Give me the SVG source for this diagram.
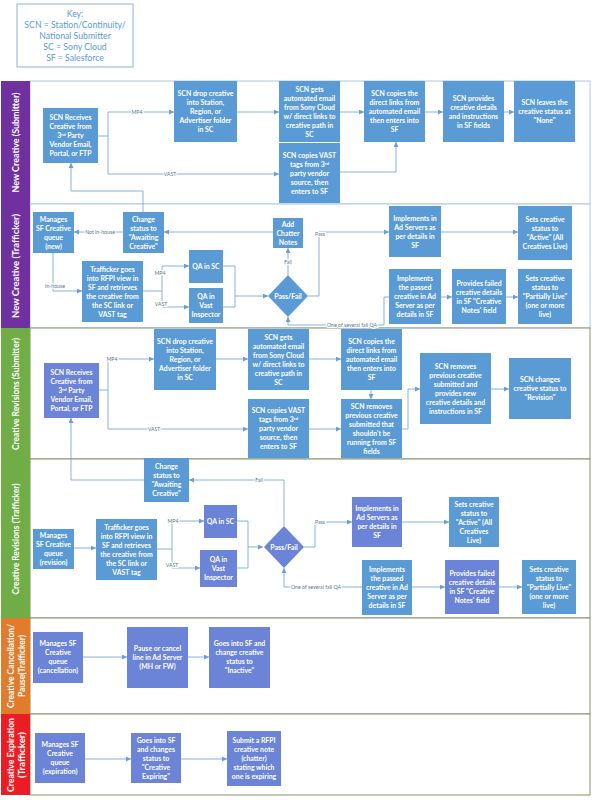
<svg xmlns="http://www.w3.org/2000/svg" width="601" height="800" viewBox="0 0 601 800">
<defs>
<style>
.b{fill:#5b9bd5}
.p{fill:#6b84d7}
.t{font-family:Lato,"Open Sans",sans-serif;font-size:6.9px;font-weight:bold;fill:#fff;text-anchor:middle}
.c{fill:none;stroke:#6a9fd3;stroke-width:0.8}
.l{font-family:Lato,"Open Sans",sans-serif;font-size:5.2px;fill:#5a7494;text-anchor:middle;stroke:#fff;stroke-width:2.2px;paint-order:stroke}
.ln{font-family:Lato,"Open Sans",sans-serif;font-size:9px;font-weight:bold;fill:#fff;text-anchor:middle}
.k{font-family:Lato,"Open Sans",sans-serif;font-size:8.7px;fill:#5b9bd5;text-anchor:middle}
.s{font-size:4.5px}
</style>
<marker id="a" markerWidth="5" markerHeight="5" refX="5" refY="2.5" orient="auto" markerUnits="userSpaceOnUse"><path d="M0,0 L5,2.5 L0,5 z" fill="#6a9fd3"/></marker>
</defs>
<rect width="601" height="800" fill="#fff"/>

<g id="key">
<rect x="17" y="4" width="116" height="63" fill="#fff" stroke="#8db3d9" stroke-width="1"/>
<text class="k"><tspan x="75" y="17">Key:</tspan><tspan x="75" y="28">SCN = Station/Continuity/</tspan><tspan x="75" y="39">National Submitter</tspan><tspan x="75" y="50">SC = Sony Cloud</tspan><tspan x="75" y="61">SF = Salesforce</tspan></text>
</g>

<g id="lanes">
<rect x="30" y="81" width="560" height="123" fill="#fff" stroke="#a9c9e6" stroke-width="1"/>
<rect x="1" y="81" width="29" height="123" fill="#7030a0"/>
<text class="ln" transform="translate(19,142.5) rotate(-90)" textLength="100" lengthAdjust="spacingAndGlyphs">New Creative (Submitter)</text>
<rect x="30" y="204" width="560" height="124" fill="#fff" stroke="#a9c9e6" stroke-width="1"/>
<rect x="1" y="204" width="29" height="124" fill="#7030a0"/>
<text class="ln" transform="translate(19,266) rotate(-90)" textLength="104" lengthAdjust="spacingAndGlyphs">New Creative (Trafficker)</text>
<rect x="30" y="328" width="560" height="131" fill="#fff" stroke="#87916f" stroke-width="1"/>
<rect x="1" y="328" width="29" height="131" fill="#70ad47"/>
<text class="ln" transform="translate(19,394) rotate(-90)" textLength="112" lengthAdjust="spacingAndGlyphs">Creative Revisions (Submitter)</text>
<rect x="30" y="459" width="560" height="159" fill="#fff" stroke="#87916f" stroke-width="1"/>
<rect x="1" y="459" width="29" height="159" fill="#70ad47"/>
<text class="ln" transform="translate(19,539) rotate(-90)" textLength="111" lengthAdjust="spacingAndGlyphs">Creative Revisions (Trafficker)</text>
<rect x="30" y="618" width="560" height="96" fill="#fff" stroke="#87916f" stroke-width="1"/>
<rect x="1" y="618" width="29" height="96" fill="#e07c2c"/>
<text class="ln" transform="translate(14,666) rotate(-90)" textLength="84" lengthAdjust="spacingAndGlyphs">Creative Cancellation/</text>
<text class="ln" transform="translate(25,666) rotate(-90)" textLength="62" lengthAdjust="spacingAndGlyphs">Pause(Trafficker)</text>
<rect x="30" y="714" width="560" height="81" fill="#fff" stroke="#87916f" stroke-width="1"/>
<rect x="1" y="714" width="29" height="81" fill="#ec1c24"/>
<text class="ln" transform="translate(14,755) rotate(-90)" textLength="74" lengthAdjust="spacingAndGlyphs">Creative Expiration</text>
<text class="ln" transform="translate(25,755) rotate(-90)" textLength="46" lengthAdjust="spacingAndGlyphs">(Trafficker)</text>
</g>

<g id="connectors">
<path class="c" d="M98,136 H108 V112 H174" marker-end="url(#a)"/>
<path class="c" d="M108,136 V174 H279" marker-end="url(#a)"/>
<path class="c" d="M237,112 H279" marker-end="url(#a)"/>
<path class="c" d="M340,112 H364" marker-end="url(#a)"/>
<path class="c" d="M340,172 H396 V142" marker-end="url(#a)"/>
<path class="c" d="M425,112 H443" marker-end="url(#a)"/>
<path class="c" d="M504,112 H514" marker-end="url(#a)"/>
<path class="c" d="M143,212 V191 H71 V163" marker-end="url(#a)"/>
<text class="l" x="137" y="114">MP4</text>
<text class="l" x="170" y="176">VAST</text>

<path class="c" d="M273,232 H164" marker-end="url(#a)"/>
<path class="c" d="M123,232 H74" marker-end="url(#a)"/>
<path class="c" d="M53,253 V291 H82" marker-end="url(#a)"/>
<path class="c" d="M143,291 H162 V266 H189" marker-end="url(#a)"/>
<path class="c" d="M162,291 V307 H189" marker-end="url(#a)"/>
<path class="c" d="M223,266 H235 V296 H268" marker-end="url(#a)"/>
<path class="c" d="M223,307 H235 V296"/>
<path class="c" d="M288,275 V248" marker-end="url(#a)"/>
<path class="c" d="M308,296 H319 V232 H389" marker-end="url(#a)"/>
<path class="c" d="M441,232 H518" marker-end="url(#a)"/>
<path class="c" d="M441,297 H452" marker-end="url(#a)"/>
<path class="c" d="M506,297 H518" marker-end="url(#a)"/>
<path class="c" d="M389,297 H384 V325 H288 V317" marker-end="url(#a)"/>
<text class="l" x="100" y="234">Not in-house</text>
<text class="l" x="55" y="288">In-house</text>
<text class="l" x="160" y="275">MP4</text>
<text class="l" x="161" y="306">VAST</text>
<text class="l" x="288" y="264">Fail</text>
<text class="l" x="320" y="236">Pass</text>
<text class="l" x="352" y="327">One of several fail QA</text>

<path class="c" d="M99,390 H108 V359 H154" marker-end="url(#a)"/>
<path class="c" d="M108,390 V429 H248" marker-end="url(#a)"/>
<path class="c" d="M216,359 H248" marker-end="url(#a)"/>
<path class="c" d="M309,359 H341" marker-end="url(#a)"/>
<path class="c" d="M309,429 H341" marker-end="url(#a)"/>
<path class="c" d="M371,390 V399" marker-end="url(#a)"/>
<path class="c" d="M402,429 H408 V389 H420" marker-end="url(#a)"/>
<path class="c" d="M491,389 H509" marker-end="url(#a)"/>
<path class="c" d="M144,480 H71 V418" marker-end="url(#a)"/>
<text class="l" x="112" y="361">MP4</text>
<text class="l" x="154" y="431">VAST</text>

<path class="c" d="M74,548 H96" marker-end="url(#a)"/>
<path class="c" d="M157,549 H172 V521 H204" marker-end="url(#a)"/>
<path class="c" d="M172,549 V568 H200" marker-end="url(#a)"/>
<path class="c" d="M237,521 H248 V547 H263" marker-end="url(#a)"/>
<path class="c" d="M237,568 H248 V547"/>
<path class="c" d="M284,526 V480 H189" marker-end="url(#a)"/>
<path class="c" d="M304,547 H315 V522 H352" marker-end="url(#a)"/>
<path class="c" d="M402,522 H449" marker-end="url(#a)"/>
<path class="c" d="M362,587 H284 V568" marker-end="url(#a)"/>
<path class="c" d="M412,587 H445" marker-end="url(#a)"/>
<path class="c" d="M499,587 H522" marker-end="url(#a)"/>
<text class="l" x="173" y="523">MP4</text>
<text class="l" x="172" y="567">VAST</text>
<text class="l" x="259" y="482">Fail</text>
<text class="l" x="320" y="524">Pass</text>
<text class="l" x="316" y="589">One of several fail QA</text>

<path class="c" d="M83,657 H127" marker-end="url(#a)"/>
<path class="c" d="M188,657 H209" marker-end="url(#a)"/>
<path class="c" d="M85,759 H131" marker-end="url(#a)"/>
<path class="c" d="M181,759 H227" marker-end="url(#a)"/>
</g>

<g id="n1a"><rect class="b" x="43" y="108" width="55" height="55"/><text class="t"><tspan x="70.5" y="120">SCN Receives</tspan><tspan x="70.5" y="129">Creative from</tspan><tspan x="70.5" y="138">3<tspan class="s" dy="-2">rd</tspan><tspan dy="2"> Party</tspan></tspan><tspan x="70.5" y="147">Vendor Email,</tspan><tspan x="70.5" y="156">Portal, or FTP</tspan></text></g>
<g id="n1b"><rect class="b" x="174" y="81" width="63" height="61"/><text class="t"><tspan x="205.5" y="96">SCN drop creative</tspan><tspan x="205.5" y="105">into Station,</tspan><tspan x="205.5" y="114">Region, or</tspan><tspan x="205.5" y="123">Advertiser folder</tspan><tspan x="205.5" y="132">in SC</tspan></text></g>
<g id="n1c"><rect class="b" x="279" y="81" width="61" height="61"/><text class="t"><tspan x="309.5" y="91.5">SCN gets</tspan><tspan x="309.5" y="100.5">automated email</tspan><tspan x="309.5" y="109.5">from Sony Cloud</tspan><tspan x="309.5" y="118.5">w/ direct links to</tspan><tspan x="309.5" y="127.5">creative path in</tspan><tspan x="309.5" y="136.5">SC</tspan></text></g>
<g id="n1d"><rect class="b" x="279" y="143" width="61" height="60"/><text class="t"><tspan x="309.5" y="157.5">SCN copies VAST</tspan><tspan x="309.5" y="166.5">tags from 3<tspan class="s" dy="-2">rd</tspan></tspan><tspan x="309.5" y="175.5">party vendor</tspan><tspan x="309.5" y="184.5">source, then</tspan><tspan x="309.5" y="193.5">enters to SF</tspan></text></g>
<g id="n1e"><rect class="b" x="364" y="81" width="61" height="61"/><text class="t"><tspan x="394.5" y="96">SCN copies the</tspan><tspan x="394.5" y="105">direct links from</tspan><tspan x="394.5" y="114">automated email</tspan><tspan x="394.5" y="123">then enters into</tspan><tspan x="394.5" y="132">SF</tspan></text></g>
<g id="n1f"><rect class="b" x="443" y="81" width="61" height="61"/><text class="t"><tspan x="473.5" y="100.5">SCN provides</tspan><tspan x="473.5" y="109.5">creative details</tspan><tspan x="473.5" y="118.5">and instructions</tspan><tspan x="473.5" y="127.5">in SF fields</tspan></text></g>
<g id="n1g"><rect class="b" x="514" y="81" width="61" height="61"/><text class="t"><tspan x="544.5" y="105">SCN leaves the</tspan><tspan x="544.5" y="114">creative status at</tspan><tspan x="544.5" y="123">"None"</tspan></text></g>

<g id="n2a"><rect class="b" x="33" y="212" width="41" height="41"/><text class="t"><tspan x="53.5" y="221.5">Manages</tspan><tspan x="53.5" y="230.5">SF Creative</tspan><tspan x="53.5" y="239.5">queue</tspan><tspan x="53.5" y="248.5">(new)</tspan></text></g>
<g id="n2b"><rect class="b" x="123" y="212" width="41" height="41"/><text class="t"><tspan x="143.5" y="221.5">Change</tspan><tspan x="143.5" y="230.5">status to</tspan><tspan x="143.5" y="239.5">"Awaiting</tspan><tspan x="143.5" y="248.5">Creative"</tspan></text></g>
<g id="n2c"><rect class="b" x="273" y="218" width="30" height="30"/><text class="t"><tspan x="288" y="226.5">Add</tspan><tspan x="288" y="235.5">Chatter</tspan><tspan x="288" y="244.5">Notes</tspan></text></g>
<g id="n2d"><rect class="b" x="82" y="261" width="61" height="61"/><text class="t"><tspan x="112.5" y="271.5">Trafficker goes</tspan><tspan x="112.5" y="280.5">into RFPI view in</tspan><tspan x="112.5" y="289.5">SF and retrieves</tspan><tspan x="112.5" y="298.5">the creative from</tspan><tspan x="112.5" y="307.5">the SC link or</tspan><tspan x="112.5" y="316.5">VAST tag</tspan></text></g>
<g id="n2e"><rect class="b" x="189" y="250" width="34" height="33"/><text class="t"><tspan x="206" y="269">QA in SC</tspan></text></g>
<g id="n2f"><rect class="b" x="189" y="288" width="34" height="35"/><text class="t"><tspan x="206" y="299">QA in</tspan><tspan x="206" y="308">Vast</tspan><tspan x="206" y="317">Inspector</tspan></text></g>
<g id="n2g"><polygon class="b" points="268,296 288,275 308,296 288,317"/><text class="t"><tspan x="288" y="298.5">Pass/Fail</tspan></text></g>
<g id="n2h"><rect class="b" x="389" y="206" width="52" height="51"/><text class="t"><tspan x="415" y="220.5">Implements in</tspan><tspan x="415" y="229.5">Ad Servers as</tspan><tspan x="415" y="238.5">per details in</tspan><tspan x="415" y="247.5">SF</tspan></text></g>
<g id="n2i"><rect class="b" x="518" y="206" width="54" height="54"/><text class="t"><tspan x="545" y="222">Sets creative</tspan><tspan x="545" y="231">status to</tspan><tspan x="545" y="240">"Active" (All</tspan><tspan x="545" y="249">Creatives Live)</tspan></text></g>
<g id="n2j"><rect class="b" x="389" y="269" width="52" height="55"/><text class="t"><tspan x="415" y="281">Implements</tspan><tspan x="415" y="290">the passed</tspan><tspan x="415" y="299">creative in Ad</tspan><tspan x="415" y="308">Server as per</tspan><tspan x="415" y="317">details in SF</tspan></text></g>
<g id="n2k"><rect class="b" x="452" y="269" width="54" height="55"/><text class="t"><tspan x="479" y="285.5">Provides failed</tspan><tspan x="479" y="294.5">creative details</tspan><tspan x="479" y="303.5">in SF "Creative</tspan><tspan x="479" y="312.5">Notes' field</tspan></text></g>
<g id="n2l"><rect class="b" x="518" y="269" width="54" height="55"/><text class="t"><tspan x="545" y="281">Sets creative</tspan><tspan x="545" y="290">status to</tspan><tspan x="545" y="299">"Partially Live"</tspan><tspan x="545" y="308">(one or more</tspan><tspan x="545" y="317">live)</tspan></text></g>

<g id="n3a"><rect class="p" x="44" y="363" width="55" height="55"/><text class="t"><tspan x="71.5" y="375">SCN Receives</tspan><tspan x="71.5" y="384">Creative from</tspan><tspan x="71.5" y="393">3<tspan class="s" dy="-2">rd</tspan><tspan dy="2"> Party</tspan></tspan><tspan x="71.5" y="402">Vendor Email,</tspan><tspan x="71.5" y="411">Portal, or FTP</tspan></text></g>
<g id="n3b"><rect class="b" x="154" y="329" width="62" height="61"/><text class="t"><tspan x="185" y="344">SCN drop creative</tspan><tspan x="185" y="353">into Station,</tspan><tspan x="185" y="362">Region, or</tspan><tspan x="185" y="371">Advertiser folder</tspan><tspan x="185" y="380">in SC</tspan></text></g>
<g id="n3c"><rect class="b" x="248" y="329" width="61" height="61"/><text class="t"><tspan x="278.5" y="339.5">SCN gets</tspan><tspan x="278.5" y="348.5">automated email</tspan><tspan x="278.5" y="357.5">from Sony Cloud</tspan><tspan x="278.5" y="366.5">w/ direct links to</tspan><tspan x="278.5" y="375.5">creative path in</tspan><tspan x="278.5" y="384.5">SC</tspan></text></g>
<g id="n3d"><rect class="b" x="248" y="399" width="61" height="59"/><text class="t"><tspan x="278.5" y="413">SCN copies VAST</tspan><tspan x="278.5" y="422">tags from 3<tspan class="s" dy="-2">rd</tspan></tspan><tspan x="278.5" y="431">party vendor</tspan><tspan x="278.5" y="440">source, then</tspan><tspan x="278.5" y="449">enters to SF</tspan></text></g>
<g id="n3e"><rect class="b" x="341" y="329" width="61" height="61"/><text class="t"><tspan x="371.5" y="344">SCN copies the</tspan><tspan x="371.5" y="353">direct links from</tspan><tspan x="371.5" y="362">automated email</tspan><tspan x="371.5" y="371">then enters into</tspan><tspan x="371.5" y="380">SF</tspan></text></g>
<g id="n3f"><rect class="b" x="341" y="399" width="61" height="59"/><text class="t"><tspan x="371.5" y="408.5">SCN removes</tspan><tspan x="371.5" y="417.5">previous creative</tspan><tspan x="371.5" y="426.5">submitted that</tspan><tspan x="371.5" y="435.5">shouldn't be</tspan><tspan x="371.5" y="444.5">running from SF</tspan><tspan x="371.5" y="453.5">fields</tspan></text></g>
<g id="n3g"><rect class="b" x="420" y="353" width="71" height="71"/><text class="t"><tspan x="455.5" y="368.5">SCN removes</tspan><tspan x="455.5" y="377.5">previous creative</tspan><tspan x="455.5" y="386.5">submitted and</tspan><tspan x="455.5" y="395.5">provides new</tspan><tspan x="455.5" y="404.5">creative details and</tspan><tspan x="455.5" y="413.5">instructions in SF</tspan></text></g>
<g id="n3h"><rect class="b" x="509" y="358" width="62" height="61"/><text class="t"><tspan x="540" y="382">SCN changes</tspan><tspan x="540" y="391">creative status to</tspan><tspan x="540" y="400">"Revision"</tspan></text></g>

<g id="n4a"><rect class="b" x="144" y="458" width="45" height="44"/><text class="t"><tspan x="166.5" y="469">Change</tspan><tspan x="166.5" y="478">status to</tspan><tspan x="166.5" y="487">"Awaiting</tspan><tspan x="166.5" y="496">Creative"</tspan></text></g>
<g id="n4b"><rect class="p" x="204" y="505" width="33" height="33"/><text class="t"><tspan x="220.5" y="524">QA in SC</tspan></text></g>
<g id="n4c"><rect class="p" x="200" y="550" width="37" height="37"/><text class="t"><tspan x="218.5" y="562">QA in</tspan><tspan x="218.5" y="571">Vast</tspan><tspan x="218.5" y="580">Inspector</tspan></text></g>
<g id="n4d"><rect class="b" x="33" y="529" width="41" height="40"/><text class="t"><tspan x="53.5" y="538">Manages</tspan><tspan x="53.5" y="547">SF Creative</tspan><tspan x="53.5" y="556">queue</tspan><tspan x="53.5" y="565">(revision)</tspan></text></g>
<g id="n4e"><rect class="b" x="96" y="519" width="61" height="61"/><text class="t"><tspan x="126.5" y="529.5">Trafficker goes</tspan><tspan x="126.5" y="538.5">into RFPI view in</tspan><tspan x="126.5" y="547.5">SF and retrieves</tspan><tspan x="126.5" y="556.5">the creative from</tspan><tspan x="126.5" y="565.5">the SC link or</tspan><tspan x="126.5" y="574.5">VAST tag</tspan></text></g>
<g id="n4f"><polygon class="p" points="264,547 284,526 304,547 284,568"/><text class="t"><tspan x="284" y="549.5">Pass/Fail</tspan></text></g>
<g id="n4g"><rect class="p" x="352" y="497" width="50" height="50"/><text class="t"><tspan x="377" y="511">Implements in</tspan><tspan x="377" y="520">Ad Servers as</tspan><tspan x="377" y="529">per details in</tspan><tspan x="377" y="538">SF</tspan></text></g>
<g id="n4h"><rect class="b" x="449" y="497" width="50" height="50"/><text class="t"><tspan x="474" y="506.5">Sets creative</tspan><tspan x="474" y="515.5">status to</tspan><tspan x="474" y="524.5">"Active" (All</tspan><tspan x="474" y="533.5">Creatives</tspan><tspan x="474" y="542.5">Live)</tspan></text></g>
<g id="n4i"><rect class="b" x="362" y="560" width="50" height="55"/><text class="t"><tspan x="387" y="572">Implements</tspan><tspan x="387" y="581">the passed</tspan><tspan x="387" y="590">creative in Ad</tspan><tspan x="387" y="599">Server as per</tspan><tspan x="387" y="608">details in SF</tspan></text></g>
<g id="n4j"><rect class="p" x="445" y="560" width="54" height="54"/><text class="t"><tspan x="472" y="576">Provides failed</tspan><tspan x="472" y="585">creative details</tspan><tspan x="472" y="594">in SF "Creative</tspan><tspan x="472" y="603">Notes' field</tspan></text></g>
<g id="n4k"><rect class="b" x="522" y="560" width="54" height="54"/><text class="t"><tspan x="549" y="571.5">Sets creative</tspan><tspan x="549" y="580.5">status to</tspan><tspan x="549" y="589.5">"Partially Live"</tspan><tspan x="549" y="598.5">(one or more</tspan><tspan x="549" y="607.5">live)</tspan></text></g>

<g id="n5a"><rect class="p" x="33" y="632" width="50" height="51"/><text class="t"><tspan x="58" y="646">Manages SF</tspan><tspan x="58" y="655">Creative</tspan><tspan x="58" y="664">queue</tspan><tspan x="58" y="673">(cancellation)</tspan></text></g>
<g id="n5b"><rect class="p" x="127" y="627" width="61" height="61"/><text class="t"><tspan x="157.5" y="651">Pause or cancel</tspan><tspan x="157.5" y="660">line in Ad Server</tspan><tspan x="157.5" y="669">(MH or FW)</tspan></text></g>
<g id="n5c"><rect class="p" x="209" y="627" width="61" height="61"/><text class="t"><tspan x="239.5" y="646">Goes into SF and</tspan><tspan x="239.5" y="655">change creative</tspan><tspan x="239.5" y="664">status to</tspan><tspan x="239.5" y="673">"Inactive"</tspan></text></g>

<g id="n6a"><rect class="p" x="35" y="733" width="50" height="50"/><text class="t"><tspan x="60" y="746.5">Manages SF</tspan><tspan x="60" y="755.5">Creative</tspan><tspan x="60" y="764.5">queue</tspan><tspan x="60" y="773.5">(expiration)</tspan></text></g>
<g id="n6b"><rect class="p" x="131" y="733" width="50" height="50"/><text class="t"><tspan x="156" y="742.5">Goes into SF</tspan><tspan x="156" y="751.5">and changes</tspan><tspan x="156" y="760.5">status to</tspan><tspan x="156" y="769.5">"Creative</tspan><tspan x="156" y="778.5">Expiring"</tspan></text></g>
<g id="n6c"><rect class="p" x="227" y="731" width="54" height="55"/><text class="t"><tspan x="254" y="743">Submit a RFPI</tspan><tspan x="254" y="752">creative note</tspan><tspan x="254" y="761">(chatter)</tspan><tspan x="254" y="770">stating which</tspan><tspan x="254" y="779">one is expiring</tspan></text></g>
</svg>
